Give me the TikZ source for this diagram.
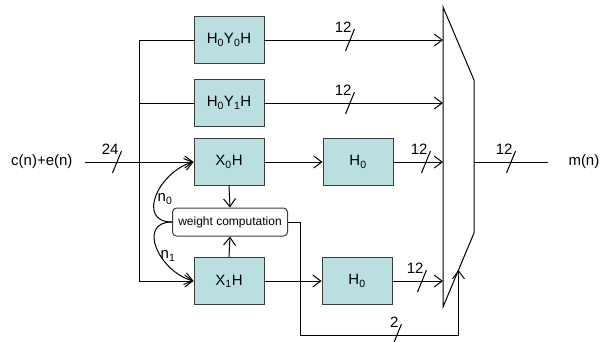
\documentclass[tikz,border=0pt]{standalone}
\usepackage{fontspec}
\setmainfont{Liberation Sans}
\usetikzlibrary{calc,arrows.meta}

\definecolor{boxfill}{RGB}{185,223,225}
\definecolor{boxline}{RGB}{60,60,60}

\tikzset{
  filt/.style={draw=boxline,fill=boxfill,line width=0.9pt,minimum width=70pt,minimum height=47pt,inner sep=0pt,font=\fontsize{15}{17}\selectfont},
  pics/slashmark/.style={code={
    \draw (-4.5,11) -- (4.5,-11);
    \node[anchor=south east,inner sep=0pt,font=\fontsize{15}{17}\selectfont] at (2,-7) {#1};
  }}
}

\begin{document}
\begin{tikzpicture}[x=1pt,y=-1pt,line width=1pt,
  >={Straight Barb[length=8pt,width=12pt]}]
  \useasboundingbox (0,0) rectangle (608,341);

  % filter blocks
  \node[filt] (h0y0h) at (229,40)  {H\textsubscript{0}Y\textsubscript{0}H};
  \node[filt] (h0y1h) at (229,103) {H\textsubscript{0}Y\textsubscript{1}H};
  \node[filt] (x0h)   at (229,162) {X\textsubscript{0}H};
  \node[filt] (x1h)   at (229,281) {X\textsubscript{1}H};
  \node[filt] (h0a)   at (358,162) {H\textsubscript{0}};
  \node[filt] (h0b)   at (357,281) {H\textsubscript{0}};
  \node[draw=boxline,rounded corners=4pt,minimum width=115pt,minimum height=28pt,inner sep=0pt,font=\fontsize{12}{14}\selectfont] (wc) at (230,222) {weight computation};

  % selector
  \coordinate (m1) at (443,7);
  \coordinate (m2) at (474,80);
  \coordinate (m3) at (474,233);
  \coordinate (m4) at (443,307);
  \draw (m1) -- (m2) -- (m3) -- (m4) -- cycle;
  \coordinate (selin) at ($(m3)!0.5!(m4)$);

  % input and bus
  \node[anchor=east,inner sep=0pt,font=\fontsize{15}{17}\selectfont] (cin) at (73,162) {c(n)+e(n)};
  \coordinate (in) at (85,162);
  \coordinate (bustop) at (139,40);
  \coordinate (busbot) at (139,281);
  \draw[->] (in) -- (x0h.west);
  \draw (bustop) -- (busbot);
  \draw (bustop) -- (h0y0h.west);
  \draw (bustop |- h0y1h) -- (h0y1h.west);
  \draw[->] (busbot) -- (x1h.west);
  \pic at (117,162) {slashmark=24};

  % to selector
  \draw[->] (h0y0h.east) -- (h0y0h -| m1);
  \pic at (350,40) {slashmark=12};
  \draw[->] (h0y1h.east) -- (h0y1h -| m1);
  \pic at (350,103) {slashmark=12};
  \draw[->] (x0h.east) -- (h0a.west);
  \draw[->] (h0a.east) -- (h0a -| m1);
  \pic at (426,162) {slashmark=12};
  \draw[->] (x1h.east) -- (h0b.west);
  \draw[->] (h0b.east) -- (h0b -| m1);
  \pic at (422,281) {slashmark=12};

  % output
  \node[anchor=west,inner sep=0pt,font=\fontsize{15}{17}\selectfont] (mout) at (568,162) {m(n)};
  \coordinate (out) at (548,162);
  \draw (m2 |- out) -- (out);
  \pic at (511,162) {slashmark=12};

  % weights
  \draw[->] (x0h.south) -- (wc.north);
  \draw[->] (x1h.north) -- (wc.south);
  \draw[->] (wc.west) to[out=180,in=195,looseness=1.45] (x0h.west);
  \draw[->] (wc.west) to[out=180,in=165,looseness=1.45] (x1h.west);
  \node[font=\fontsize{15}{17}\selectfont] (n0) at (165,199) {n\textsubscript{0}};
  \node[font=\fontsize{15}{17}\selectfont] (n1) at (168,256) {n\textsubscript{1}};

  % selection signal
  \draw[->] (wc.east) -| (300,335) -| (selin);
  \pic at (397,335) {slashmark=2};
\end{tikzpicture}
\end{document}
